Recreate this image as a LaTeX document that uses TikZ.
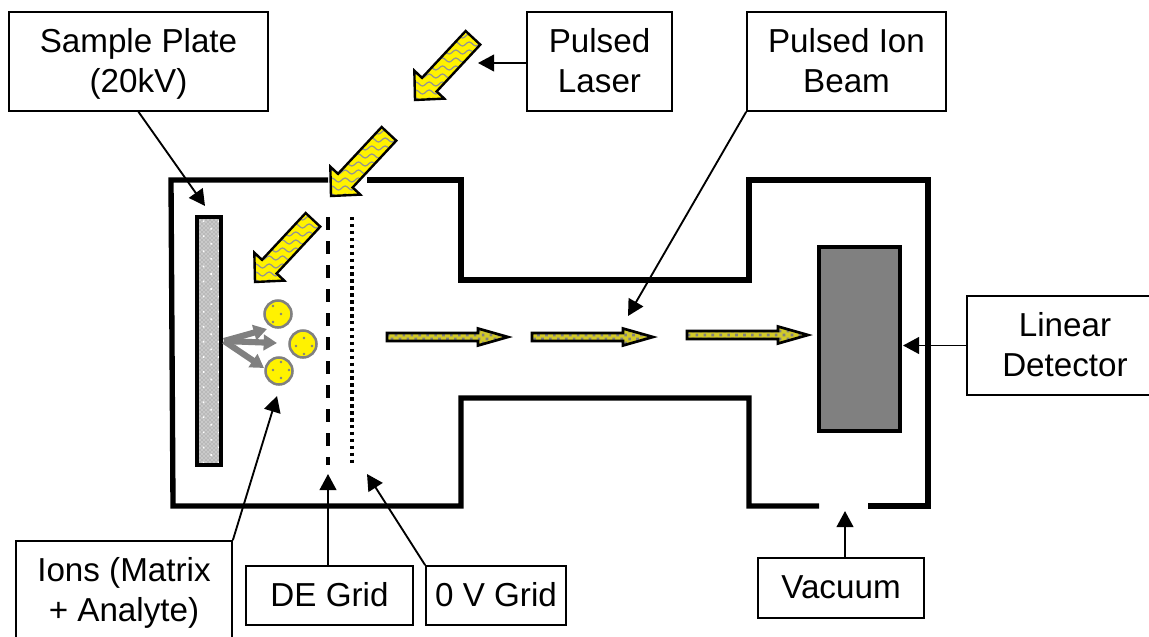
\documentclass[tikz,border=0pt]{standalone}
\usepackage{fontspec}
\setmainfont{Liberation Sans}
\usetikzlibrary{arrows.meta,patterns,patterns.meta,decorations.pathmorphing}
\begin{document}
\begin{tikzpicture}[x=0.75pt,y=-0.75pt]
\tikzset{labelbox/.style={draw,line width=1.3pt,inner sep=0pt,align=center,minimum width=#1,minimum height=74.25pt,
    font=\fontsize{24.9}{30}\selectfont,text depth=1.2pt}}
\tikzset{callout/.style={line width=1.4pt,-{Triangle[length=12pt,width=12.5pt]}}}
\tikzset{wall/.style={line width=4pt}}
\tikzset{ballfill/.style={draw=gray,fill=yellow,line width=1.9pt}}
\tikzset{beamfill/.style={draw=black,line width=2pt,preaction={fill=yellow!80!black},
    pattern={Dots[distance=4.2pt,radius=1.4pt,angle=45]},pattern color=gray}}
\pgfmathsetmacro{\headlen}{21}
\pgfmathsetmacro{\headw}{20.5}
\pgfmathsetmacro{\shaftw}{10}
\pgfmathsetmacro{\laserlen}{85}
\useasboundingbox (0,0) rectangle (1149,636);
\node[labelbox=194.25pt] (samplelabel) at (138.5,61.5) {Sample Plate\\(20kV)};
\node[labelbox=108.75pt] (laserlabel) at (599.5,61.5) {Pulsed\\Laser};
\node[labelbox=149.25pt] (beamlabel) at (846.5,61.5) {Pulsed Ion\\Beam};
\node[labelbox=147pt] (detectorlabel) at (1065,345.5) {Linear\\Detector};
\node[labelbox=162pt] (ionslabel) at (124,590.5) {Ions (Matrix\\+ Analyte)};
\node[labelbox=125.25pt,minimum height=44.25pt] (degridlabel) at (329.5,595.5) {DE Grid};
\node[labelbox=105pt,minimum height=44.25pt] (zerogridlabel) at (496,595.5) {0 V Grid};
\node[labelbox=124.5pt,minimum height=45pt] (vacuumlabel) at (841,588) {Vacuum};
\draw[wall] (328,180) -- (171,180) -- (173,506) -- (461,506) -- (461,398) -- (749,398) -- (749,506) -- (819,506);
\draw[wall] (367,180) -- (461,180) -- (461,280) -- (749,280) -- (749,180) -- (928,180) -- (928,506) -- (868,506);
\draw[line width=2.6pt,preaction={fill=gray!55},preaction={pattern=crosshatch dots,pattern color=white},pattern={Dots[distance=8pt,radius=0.9pt,angle=45]},pattern color=white] (197,217) rectangle (221,465);
\draw[line width=2.4pt,fill=gray] (819,247) rectangle (900,431);
\draw[line width=3pt,dash pattern=on 9.5pt off 8.5pt] (328,217) -- (328,465);
\draw[line width=2.6pt,dash pattern=on 2.6pt off 2.6pt] (352,217) -- (352,465);
\foreach \x/\y in {278/314,303/344,279/371}
{
    \draw[ballfill] (\x,\y) circle[radius=13.5];
}
\foreach \x/\y in {273/306,281/314,273/322,304/338,296/346,312/346,304/354,281/362,273/370,289/370,281/378}
{
    \fill[gray] (\x,\y) circle[radius=1.4];
}
\coordinate (ionsource) at (224,341);
\coordinate (iontipa) at (267,329);
\coordinate (iontipb) at (277,343);
\coordinate (iontipc) at (264,368);
\foreach \t in {iontipa,iontipb,iontipc}
{
    \draw[line width=4.6pt,gray,-{Triangle[length=10pt,width=11.5pt]}] (ionsource) -- (\t);
}
\foreach \x/\y in {415/100,331/196,255/282}
{
    \begin{scope}[shift={(\x,\y)},rotate=47,yscale=-1]
    \begin{scope}
    \clip (0,0) -- (\headlen,\headw) -- (\headlen,\shaftw) -- (\laserlen,\shaftw) -- (\laserlen,-\shaftw) -- (\headlen,-\shaftw) -- (\headlen,-\headw) -- cycle;
    \fill[yellow] (-5,-30) rectangle (95,30);
    \foreach \w in {-64,-56,...,64}
    {
        \draw[gray!85,line width=0.9pt,rotate=47,decorate,decoration={snake,amplitude=1.5pt,segment length=10pt}] (-30,\w) -- (110,\w);
    }
    \end{scope}
    \draw[line width=1.8pt,line join=miter] (0,0) -- (\headlen,\headw) -- (\headlen,\shaftw) -- (\laserlen,\shaftw) -- (\laserlen,-\shaftw) -- (\headlen,-\shaftw) -- (\headlen,-\headw) -- cycle;
    \end{scope}
}
\foreach \x/\y in {387/337,532/337,687/335}
{
    \filldraw[beamfill] (\x,\y-4) -- ++(91,0) -- ++(0,-4.5) -- ++(30,8.5) -- ++(-30,8.5) -- ++(0,-4.5) -- ++(-91,0) -- cycle;
}
\coordinate (sampletip) at (205,206);
\coordinate (lasertip) at (478,63);
\coordinate (beamtip) at (628,316);
\coordinate (detectortip) at (903,345.5);
\coordinate (ionstip) at (277,396);
\coordinate (degridtip) at (328,474);
\coordinate (zerogridtip) at (367,474);
\coordinate (vacuumtip) at (845,511);
\draw[callout] (samplelabel.south) -- (sampletip);
\draw[callout] (laserlabel.west |- lasertip) -- (lasertip);
\draw[callout] (beamlabel.south west) -- (beamtip);
\draw[callout] (detectorlabel.west) -- (detectortip);
\draw[callout] (ionslabel.north east) -- (ionstip);
\draw[callout] (degridlabel.north -| degridtip) -- (degridtip);
\draw[callout] (zerogridlabel.north west) -- (zerogridtip);
\draw[callout] (vacuumlabel.north -| vacuumtip) -- (vacuumtip);
\end{tikzpicture}
\end{document}
